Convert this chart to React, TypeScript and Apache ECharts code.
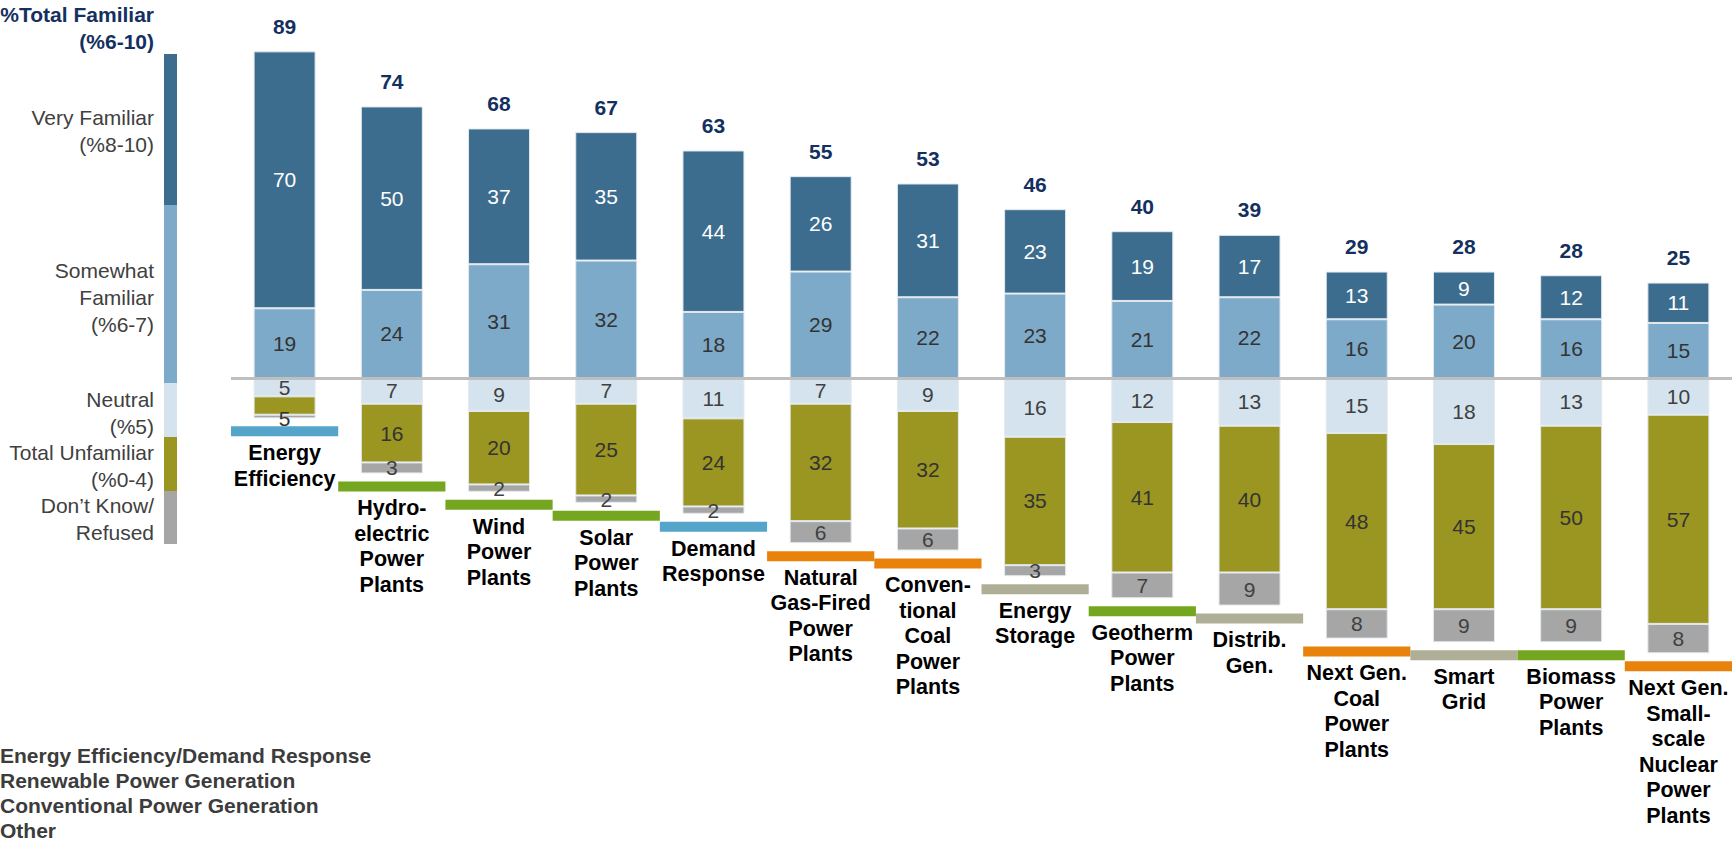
import React, { useEffect, useRef } from "react";
import * as echarts from "echarts";

const categoryLabels = [
  "Energy\nEfficiency",
  "Hydro-\nelectric\nPower\nPlants",
  "Wind\nPower\nPlants",
  "Solar\nPower\nPlants",
  "Demand\nResponse",
  "Natural\nGas-Fired\nPower\nPlants",
  "Conven-\ntional\nCoal\nPower\nPlants",
  "Energy\nStorage",
  "Geotherm\nPower\nPlants",
  "Distrib.\nGen.",
  "Next Gen.\nCoal\nPower\nPlants",
  "Smart\nGrid",
  "Biomass\nPower\nPlants",
  "Next Gen.\nSmall-\nscale\nNuclear\nPower\nPlants",
];
const groups = ["ee", "ren", "ren", "ren", "ee", "conv", "conv", "other", "ren", "other", "conv", "other", "ren", "conv"];

const veryFamiliar = [70, 50, 37, 35, 44, 26, 31, 23, 19, 17, 13, 9, 12, 11];
const somewhatFamiliar = [19, 24, 31, 32, 18, 29, 22, 23, 21, 22, 16, 20, 16, 15];
const neutral = [5, 7, 9, 7, 11, 7, 9, 16, 12, 13, 15, 18, 13, 10];
const unfamiliar = [5, 16, 20, 25, 24, 32, 32, 35, 41, 40, 48, 45, 50, 57];
const dontKnow = [1, 3, 2, 2, 2, 6, 6, 3, 7, 9, 8, 9, 9, 8];
const totalFamiliar = [89, 74, 68, 67, 63, 55, 53, 46, 40, 39, 29, 28, 28, 25];

const legendGroups = [
  "Energy Efficiency/Demand Response",
  "Renewable Power Generation",
  "Conventional Power Generation",
  "Other",
];

const FONT = "Liberation Sans, Arial, sans-serif";
const groupColors: Record<string, string> = {
  ee: "#55a5cb",
  ren: "#74a71f",
  conv: "#e8820b",
  other: "#afaf98",
};
const C_VERY = "#3d6d8e";
const C_SOME = "#7eaac9";
const C_NEU = "#d4e3ee";
const C_UNF = "#9b9521";
const C_DK = "#a6a6a6";

export default function App() {
  const ref = useRef<HTMLDivElement>(null);
  useEffect(() => {
    if (!ref.current) return;
    const chart = echarts.init(ref.current, undefined, { renderer: "svg" });

    const segLabel = (color: string) => ({
      show: true,
      position: "inside",
      color,
      fontSize: 21,
      fontFamily: FONT,
      formatter: (p: any) => {
        const v = Math.abs(p.value);
        return v < 2 ? "" : String(v);
      },
    });
    const itemStyle = (color: string) => ({ color, borderColor: "#e3e9ef", borderWidth: 1 });

    const customData = categoryLabels.map((_, i) => [
      i,
      neutral[i] + unfamiliar[i] + dontKnow[i],
      veryFamiliar[i] + somewhatFamiliar[i],
      totalFamiliar[i],
    ]);

    const legendLeft: any[] = [];
    const segs = [
      { y0: 54, y1: 205, c: C_VERY },
      { y0: 205, y1: 383, c: C_SOME },
      { y0: 383, y1: 437, c: C_NEU },
      { y0: 437, y1: 491, c: C_UNF },
      { y0: 491, y1: 544, c: C_DK },
    ];
    segs.forEach((s) =>
      legendLeft.push({ type: "rect", shape: { x: 164, y: s.y0, width: 13, height: s.y1 - s.y0 }, style: { fill: s.c } })
    );
    const lt = (text: string, cy: number) => ({
      type: "text",
      x: 154,
      y: cy,
      style: { text, fill: "#404040", fontSize: 21, fontFamily: FONT, align: "right", verticalAlign: "middle", lineHeight: 27 },
    });
    legendLeft.push({
      type: "text",
      x: 154,
      y: 28,
      style: {
        text: "%Total Familiar\n(%6-10)",
        fill: "#14305f",
        fontSize: 21,
        fontWeight: "bold",
        fontFamily: FONT,
        align: "right",
        verticalAlign: "middle",
        lineHeight: 27,
      },
    });
    legendLeft.push(lt("Very Familiar\n(%8-10)", 131));
    legendLeft.push(lt("Somewhat\nFamiliar\n(%6-7)", 297));
    legendLeft.push(lt("Neutral\n(%5)", 413));
    legendLeft.push(lt("Total Unfamiliar\n(%0-4)", 465.5));
    legendLeft.push(lt("Don\u2019t Know/\nRefused", 519));
    legendLeft.push({
      type: "text",
      x: 0,
      y: 793,
      style: {
        text: legendGroups.join("\n"),
        fill: "#3c3c3c",
        fontSize: 21,
        fontWeight: "bold",
        fontFamily: FONT,
        align: "left",
        verticalAlign: "middle",
        lineHeight: 25,
      },
    });

    chart.setOption({
      animation: false,
      grid: { left: 231, top: 11, width: 1508, height: 734 },
      xAxis: {
        type: "category",
        data: categoryLabels,
        show: false,
      },
      yAxis: { type: "value", min: -100, max: 100, show: false },
      graphic: legendLeft,
      series: [
        {
          type: "bar",
          name: "Somewhat Familiar",
          stack: "a",
          barWidth: 62,
          data: somewhatFamiliar,
          itemStyle: itemStyle(C_SOME),
          label: segLabel("#333333"),
        },
        {
          type: "bar",
          name: "Very Familiar",
          stack: "a",
          barWidth: 62,
          data: veryFamiliar,
          itemStyle: itemStyle(C_VERY),
          label: segLabel("#ffffff"),
        },
        {
          type: "bar",
          name: "Neutral",
          stack: "a",
          barWidth: 62,
          data: neutral.map((v) => -v),
          itemStyle: itemStyle(C_NEU),
          label: segLabel("#404040"),
        },
        {
          type: "bar",
          name: "Total Unfamiliar",
          stack: "a",
          barWidth: 62,
          data: unfamiliar.map((v, i) => (i === 0 ? { value: -v, label: { offset: [0, 13] } } : -v)),
          itemStyle: itemStyle(C_UNF),
          label: segLabel("#333333"),
        },
        {
          type: "bar",
          name: "Don't Know/Refused",
          stack: "a",
          barWidth: 62,
          data: dontKnow.map((v) => -v),
          itemStyle: itemStyle(C_DK),
          label: segLabel("#404040"),
          markLine: {
            silent: true,
            symbol: ["none", "none"],
            label: { show: false },
            lineStyle: { color: "#bfbfbf", width: 3, type: "solid" },
            data: [{ yAxis: 0 }],
          },
        },
        {
          type: "custom",
          name: "labels",
          silent: true,
          clip: false,
          z: 10,
          data: customData,
          renderItem: (params: any, api: any) => {
            const i = api.value(0);
            const neg = api.value(1);
            const pos = api.value(2);
            const total = api.value(3);
            const bottom = api.coord([i, -neg]);
            const top = api.coord([i, pos]);
            const w = api.size([1, 0])[0];
            return {
              type: "group",
              children: [
                {
                  type: "rect",
                  shape: { x: bottom[0] - w / 2, y: bottom[1] + 8, width: w, height: 10 },
                  style: { fill: groupColors[groups[i]] },
                },
                {
                  type: "text",
                  x: bottom[0],
                  y: bottom[1] + 22,
                  style: {
                    text: categoryLabels[i],
                    fill: "#000000",
                    fontSize: 21.5,
                    fontWeight: "bold",
                    fontFamily: FONT,
                    align: "center",
                    verticalAlign: "top",
                    lineHeight: 25.5,
                  },
                },
                {
                  type: "text",
                  x: top[0],
                  y: top[1] - 25,
                  style: {
                    text: String(total),
                    fill: "#14305f",
                    fontSize: 21,
                    fontWeight: "bold",
                    fontFamily: FONT,
                    align: "center",
                    verticalAlign: "middle",
                  },
                },
              ],
            };
          },
        },
      ],
    });
    return () => chart.dispose();
  }, []);
  return <div ref={ref} style={{ position: "absolute", left: 0, top: 0, width: 1732, height: 843 }} />;
}
